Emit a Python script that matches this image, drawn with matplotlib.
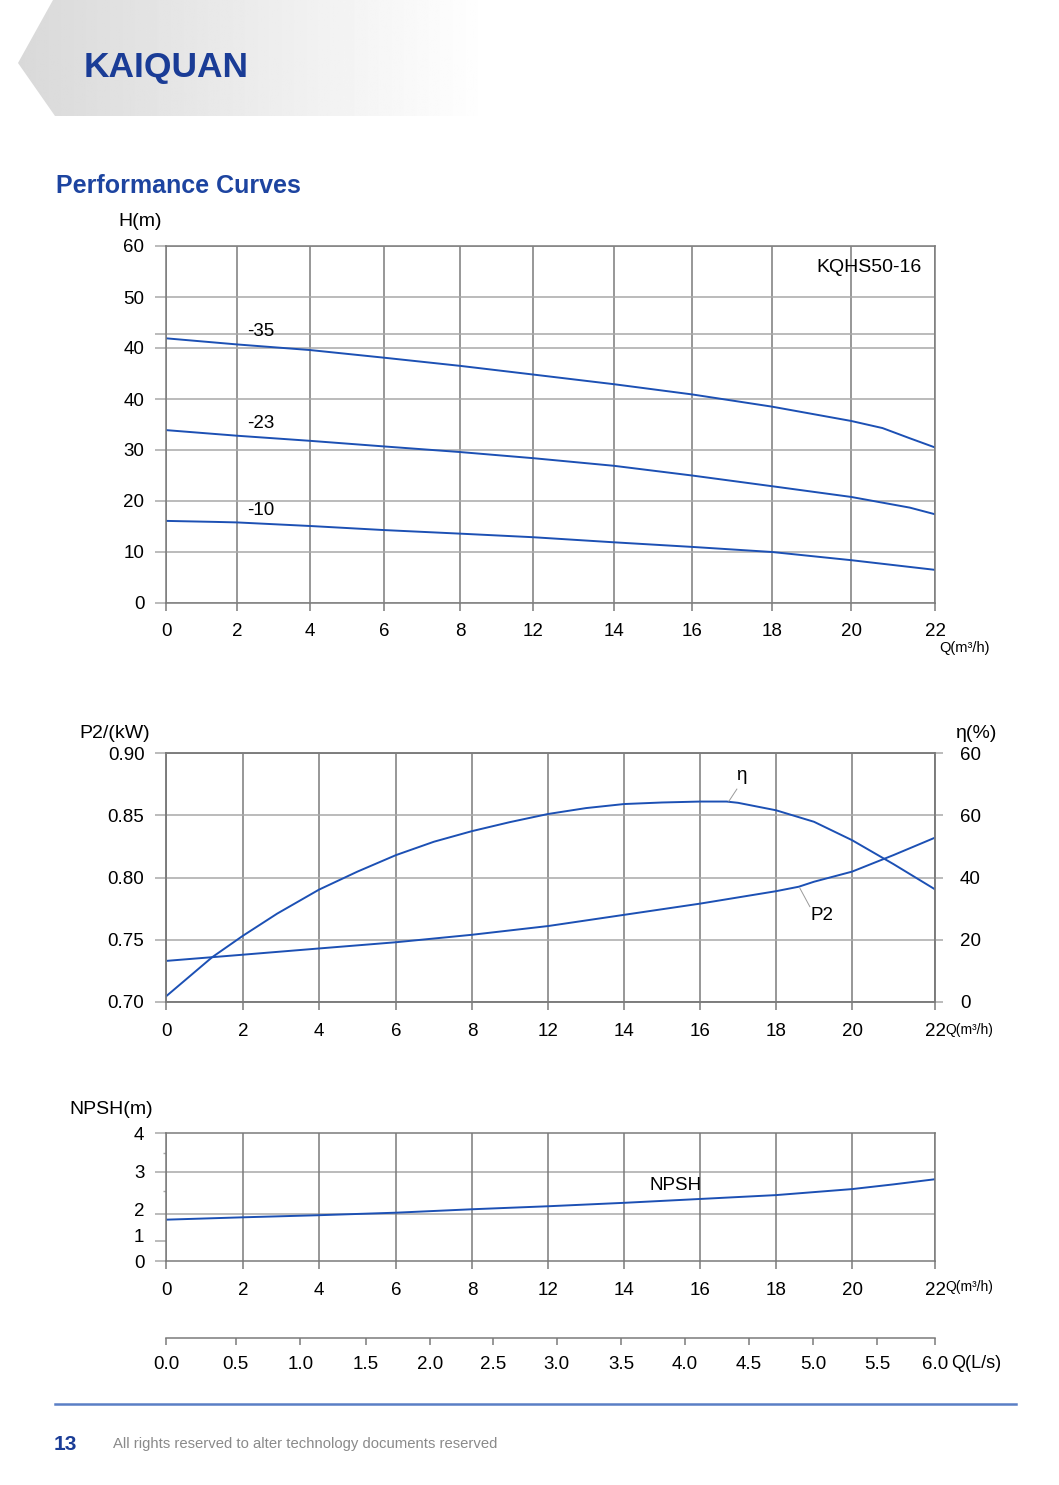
import numpy as np
import matplotlib
matplotlib.use("Agg")
import matplotlib.pyplot as plt
import matplotlib.transforms as mtransforms
from matplotlib.patches import Polygon
from matplotlib.lines import Line2D

plt.rcParams["font.family"] = ["Liberation Sans", "DejaVu Sans"]

W, H = 1059, 1485
BLUE = "#1c50b4"
NAVY = "#1a3c96"
DARK = "#7a7a7a"
LIGHT = "#a8a8a8"
FS = 13.5

# ---- data ----
Q_TICKS = [0, 2, 4, 6, 8, 12, 14, 16, 18, 20, 22]

# H(m) panel, y in axis units 0..70 (tick labels as printed)
H_TICKS = [0, 10, 20, 30, 40, 50, 60, 70]
H_TICK_LABELS = ["0", "10", "20", "30", "40", "40", "50", "60"]
Q_35 = [0, 2, 4, 6, 8, 12, 14, 16, 18, 20, 20.75, 21.4, 22]
H_35 = [51.9, 50.7, 49.6, 48.1, 46.5, 44.8, 42.9, 40.9, 38.5, 35.7, 34.3, 32.3, 30.5]
Q_23 = [0, 2, 4, 6, 8, 12, 14, 16, 18, 20, 21.4, 22]
H_23 = [33.9, 32.8, 31.8, 30.7, 29.6, 28.4, 26.9, 25.0, 22.9, 20.8, 18.7, 17.4]
Q_10 = [0, 1.4, 2, 4, 6, 8, 12, 14, 16, 18, 20, 22]
H_10 = [16.1, 15.9, 15.8, 15.1, 14.3, 13.6, 12.9, 11.9, 11.0, 10.0, 8.4, 6.5]

# P2 / efficiency panel
P2_TICKS = [0.70, 0.75, 0.80, 0.85, 0.90]
ETA_TICKS = [0, 20, 40, 60, 80]
ETA_TICK_LABELS = ["0", "20", "40", "60", "60"]
Q_P2 = [0, 2, 4, 6, 8, 12, 14, 16, 17, 18, 18.6, 19, 20, 21, 22]
P2 = [0.733, 0.738, 0.743, 0.748, 0.754, 0.761, 0.770, 0.779, 0.784, 0.789,
      0.7926, 0.7966, 0.8047, 0.818, 0.832]
Q_ETA = [0, 1.2, 2, 2.9, 4, 5, 6, 7, 8, 10, 12, 13, 14, 15, 16, 16.7, 17, 18,
         19, 20, 21, 22]
ETA = [1.8, 14.4, 21.3, 28.4, 36.1, 41.9, 47.2, 51.5, 54.9, 57.8, 60.4, 62.3,
       63.6, 64.1, 64.4, 64.4, 64.0, 61.6, 57.9, 52.0, 44.3, 36.2]

# NPSH panel
NPSH_TICKS = [0, 1, 2, 3, 4]
Q_N = [0, 2, 4, 6, 8, 12, 14, 16, 18, 20, 21, 22]
NPSH = [1.80, 1.89, 1.97, 2.04, 2.12, 2.19, 2.27, 2.36, 2.45, 2.59, 2.70, 2.82]

LS_TICKS = [0.0, 0.5, 1.0, 1.5, 2.0, 2.5, 3.0, 3.5, 4.0, 4.5, 5.0, 5.5, 6.0]

# ---- layout (pixel positions of the printed ticks) ----
X1_PIX = [166, 237, 310, 384, 460, 533, 614, 692, 772, 851, 935]
X2_PIX = [166, 243, 319, 396, 472, 548, 624, 700, 776, 852, 935]
NPSH_PIX = [0, 20.3, 46.7, 89.7, 128.3]
LS_PIX = [166, 235.7, 300.3, 365.7, 430.3, 493.3, 556.7, 621, 685, 749, 813.3, 877, 935]

fig = plt.figure(figsize=(W / 100, H / 100), dpi=100)


def add_ax(l, t, r, b):
    return fig.add_axes([l / W, 1 - b / H, (r - l) / W, (b - t) / H])


def ftext(x, y, s, **kw):
    kw.setdefault("va", "center")
    kw.setdefault("fontsize", FS)
    fig.text(x / W, 1 - y / H, s, **kw)


def piecewise(vals, pix):
    fwd = lambda v: np.interp(v, vals, pix)
    inv = lambda p: np.interp(p, pix, vals)
    return fwd, inv


def style(ax, xlen=5.5):
    for s in ax.spines.values():
        s.set_color(DARK)
        s.set_linewidth(1.1)
    ax.tick_params(axis="x", length=xlen, width=1.1, color=DARK, pad=9, labelsize=FS)
    ax.tick_params(axis="y", length=8, width=1.1, color=LIGHT, pad=7.5, labelsize=FS)
    ax.grid(axis="x", color=DARK, lw=1.1)
    ax.set_axisbelow(True)


# ---- header band ----
bg = fig.add_axes([0, 0, 1, 1], zorder=-5)
bg.set_xlim(0, W)
bg.set_ylim(H, 0)
bg.axis("off")
band = Polygon([(53, 0), (18, 63), (55, 116), (500, 116), (500, 0)], closed=True,
               fc="none", ec="none")
bg.add_patch(band)
grad = np.linspace(0.85, 1.0, 300)[None, :]
im = bg.imshow(grad, extent=(18, 490, 116, 0), cmap="gray", vmin=0, vmax=1,
               aspect="auto")
im.set_clip_path(band)
bg.add_line(Line2D([55, 1016], [1404, 1404], color="#5a7fc5", lw=1.8))

ftext(84, 67, "KAIQUAN", fontsize=25.5, fontweight="heavy", color=NAVY)
ftext(56, 186, "Performance Curves", fontsize=18, fontweight="bold", color="#1d44a0")
ftext(54, 1444, "13", fontsize=15, fontweight="bold", color=NAVY)
ftext(113, 1444, "All rights reserved to alter technology documents reserved",
      fontsize=10.7, color="#8a8a8a")

# ---- H panel ----
ax1 = add_ax(166, 246, 935, 603)
ax1.set_xscale("function", functions=piecewise(Q_TICKS, X1_PIX))
ax1.set_xlim(0, 22)
ax1.set_ylim(0, 70)
ax1.set_xticks(Q_TICKS)
ax1.set_xticklabels([str(q) for q in Q_TICKS])
ax1.set_yticks(H_TICKS + [52.75])
ax1.set_yticklabels(H_TICK_LABELS + [""])
style(ax1)
ax1.grid(axis="y", color=LIGHT, lw=1.1)
for q, h in ((Q_35, H_35), (Q_23, H_23), (Q_10, H_10)):
    ax1.plot(q, h, color=BLUE, lw=1.4)
ftext(261, 332, "-35", ha="center")
ftext(261, 423, "-23", ha="center")
ftext(261, 511, "-10", ha="center")
ftext(869, 268, "KQHS50-16", ha="center", fontsize=14)
ftext(140, 221, "H(m)", ha="center", fontsize=14)
ftext(965, 648, "Q(m³/h)", ha="center", fontsize=10.5)

# ---- P2 / eta panel ----
ax2 = add_ax(166, 753, 935, 1002)
ax2.set_xscale("function", functions=piecewise(Q_TICKS, X2_PIX))
ax2.set_xlim(0, 22)
ax2.set_ylim(0.70, 0.90)
ax2.set_xticks(Q_TICKS)
ax2.set_xticklabels([str(q) for q in Q_TICKS])
ax2.set_yticks(P2_TICKS)
ax2.set_yticklabels([f"{v:.2f}" for v in P2_TICKS])
style(ax2, xlen=6)
ax2.grid(axis="y", color=LIGHT, lw=1.1)
ax2.plot(Q_P2, P2, color=BLUE, lw=1.4)
ax2r = ax2.twinx()
ax2r.set_ylim(0, 80)
ax2r.set_yticks(ETA_TICKS)
ax2r.set_yticklabels(ETA_TICK_LABELS)
ax2r.tick_params(axis="y", length=6, width=1.1, color=LIGHT, pad=12, labelsize=FS)
for s in ax2r.spines.values():
    s.set_color(DARK)
    s.set_linewidth(1.1)
ax2r.plot(Q_ETA, ETA, color=BLUE, lw=1.4)
ax2r.plot([16.76, 16.97], [64.5, 68.4], color="#9a9a9a", lw=0.7)
ax2.plot([18.63, 18.89], [0.7913, 0.7766], color="#9a9a9a", lw=0.7)
ftext(741, 776, "η", ha="center")
ftext(822, 916, "P2", ha="center")
ftext(115, 733, "P2/(kW)", ha="center", fontsize=14)
ftext(977, 733, "η(%)", ha="center", fontsize=14)
ftext(945, 1030, "Q(m³/h)", ha="left", fontsize=10)

# ---- NPSH panel ----
ax3 = add_ax(166, 1133, 935, 1261)
ax3.set_xscale("function", functions=piecewise(Q_TICKS, X2_PIX))
ax3.set_yscale("function", functions=piecewise(NPSH_TICKS, NPSH_PIX))
ax3.set_xlim(0, 22)
ax3.set_ylim(0, 4)
ax3.set_xticks(Q_TICKS)
ax3.set_xticklabels([str(q) for q in Q_TICKS])
ax3.set_yticks(NPSH_TICKS)
ax3.set_yticklabels([str(v) for v in NPSH_TICKS])
ax3.set_yticks([2.54, 3.49], minor=True)
style(ax3, xlen=6)
ax3.tick_params(axis="y", which="minor", length=2.5, width=1, color=LIGHT)
# labels "1" and "2" sit a little above their lines in the print
lift = mtransforms.ScaledTranslation(0, 5 / 100, fig.dpi_scale_trans)
for lab in ax3.get_yticklabels()[1:3]:
    lab.set_transform(lab.get_transform() + lift)
for v in (2, 3):
    ax3.axhline(v, color=LIGHT, lw=1.1, zorder=0.5)
ax3.plot(Q_N, NPSH, color=BLUE, lw=1.4)
ftext(676, 1186, "NPSH", ha="center")
ftext(111, 1109, "NPSH(m)", ha="center", fontsize=14)
ftext(945, 1287, "Q(m³/h)", ha="left", fontsize=10)

# ---- Q(L/s) scale ----
ax4 = add_ax(166, 1330, 935, 1338)
ax4.set_xscale("function", functions=piecewise(LS_TICKS, LS_PIX))
ax4.set_xlim(0, 6)
ax4.set_xticks(LS_TICKS)
ax4.set_xticklabels([f"{v:.1f}" for v in LS_TICKS])
ax4.set_yticks([])
for k, s in ax4.spines.items():
    s.set_visible(k == "bottom")
    s.set_color(DARK)
    s.set_linewidth(1.1)
ax4.patch.set_alpha(0)
ax4.tick_params(axis="x", length=5, width=1.1, color=DARK, pad=8, labelsize=FS)
ftext(951, 1363, "Q(L/s)", ha="left", fontsize=13)

fig.savefig("out.png", dpi=100, facecolor="white")
